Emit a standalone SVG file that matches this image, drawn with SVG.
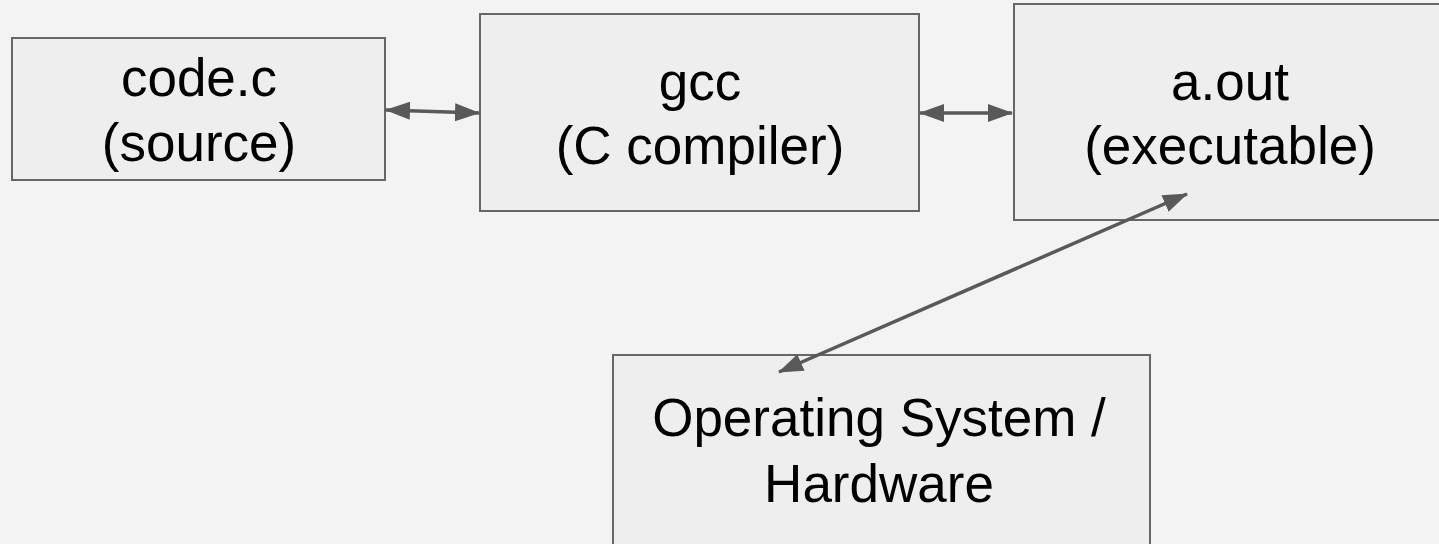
<svg xmlns="http://www.w3.org/2000/svg" width="1439" height="544" viewBox="0 0 1439 544">
<style>
.box{fill:#eeeeee;stroke:#666666;stroke-width:2}
.lbl{font-family:"Liberation Sans",Arial,sans-serif;font-size:53px;fill:#000;text-anchor:middle}
.conn{stroke:#595959;stroke-width:3.5;fill:none}
</style>
<defs>
<marker id="ah" markerUnits="userSpaceOnUse" markerWidth="25" markerHeight="18" viewBox="0 0 25 18" refX="24" refY="9" orient="auto-start-reverse">
<path d="M0,0 L25,9 L0,18 z" fill="#595959"/>
</marker>
</defs>
<rect width="1439" height="544" fill="#f3f3f3"/>
<g id="node-code">
<rect class="box" x="12" y="38" width="373" height="142"/>
<text class="lbl" x="199" y="96">code.c</text>
<text class="lbl" x="199" y="161">(source)</text>
</g>
<g id="node-gcc">
<rect class="box" x="480" y="14" width="439" height="197"/>
<text class="lbl" x="700" y="100">gcc</text>
<text class="lbl" x="700" y="164">(C compiler)</text>
</g>
<g id="node-aout">
<rect class="box" x="1014" y="4" width="440" height="216"/>
<text class="lbl" x="1230" y="100">a.out</text>
<text class="lbl" x="1230" y="164">(executable)</text>
</g>
<g id="node-os">
<rect class="box" x="613" y="355" width="537" height="200"/>
<text class="lbl" x="879" y="436">Operating System /</text>
<text class="lbl" x="879" y="502">Hardware</text>
</g>
<g id="connectors">
<line class="conn" x1="386" y1="110" x2="479" y2="113" marker-start="url(#ah)" marker-end="url(#ah)"/>
<line class="conn" x1="920" y1="113" x2="1012" y2="113" marker-start="url(#ah)" marker-end="url(#ah)"/>
<line class="conn" x1="779" y1="372" x2="1187" y2="194" marker-start="url(#ah)" marker-end="url(#ah)"/>
</g>
</svg>
